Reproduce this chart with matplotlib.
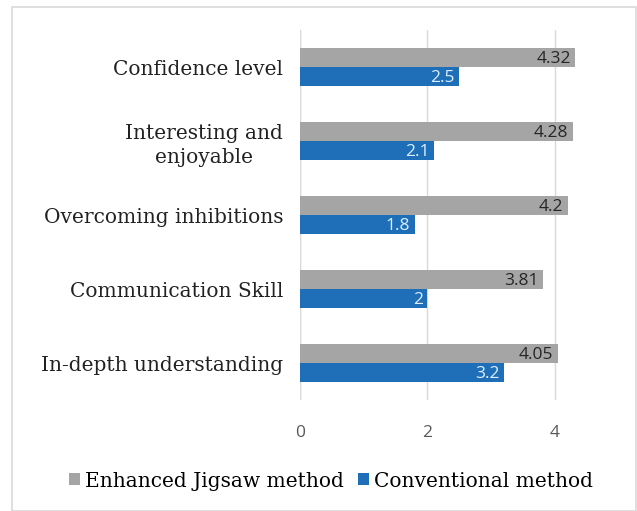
import matplotlib.pyplot as plt
from matplotlib.patches import Rectangle
import numpy as np

categories = ["Confidence level", "Interesting and\nenjoyable", "Overcoming inhibitions",
              "Communication Skill", "In-depth understanding"]
jigsaw = [4.32, 4.28, 4.2, 3.81, 4.05]
conventional = [2.5, 2.1, 1.8, 2, 3.2]
jigsaw_labels = ["4.32", "4.28", "4.2", "3.81", "4.05"]
conv_labels = ["2.5", "2.1", "1.8", "2", "3.2"]

gray = '#a5a5a5'
blue = '#1f6fb8'

fig = plt.figure(figsize=(6.37, 5.11), dpi=100)
fig.patches.append(Rectangle((12/637, 0), 624/637, 1 - 7/511, transform=fig.transFigure,
                             fill=False, edgecolor='#d9d9d9', lw=1.2))
ax = fig.add_axes([300/637, 1 - 400/511, 293/637, 370/511])

y = np.arange(len(categories))
h = 0.262
ax.barh(y - h/2, jigsaw, height=h, color=gray, label="Enhanced Jigsaw method", zorder=2)
ax.barh(y + h/2, conventional, height=h, color=blue, label="Conventional method", zorder=2)

for i in range(len(categories)):
    ax.text(jigsaw[i] - 0.07, y[i] - h/2 + 0.02, jigsaw_labels[i], ha='right', va='center',
            fontsize=12.5, color='#262626', family='Open Sans', zorder=3)
    ax.text(conventional[i] - 0.07, y[i] + h/2 + 0.02, conv_labels[i], ha='right', va='center',
            fontsize=12.5, color='#dcefff', family='Open Sans', zorder=3)

ax.set_ylim(len(categories) - 0.5, -0.5)
ax.set_xlim(0, 4.6)
ax.set_xticks([0, 2, 4])
ax.set_xticklabels(['0', '2', '4'], family='Open Sans', fontsize=12.5, color='#595959')
ax.set_yticks(y)
ax.set_yticklabels(categories, family='DejaVu Serif', fontsize=14.5, color='#222222',
                   linespacing=1.3)
for lab in ax.get_yticklabels():
    lab.set_multialignment('center')
ax.tick_params(length=0, pad=12, axis='y')
ax.tick_params(length=0, pad=18, axis='x')
ax.grid(axis='x', color='#d9d9d9', lw=1, zorder=0)
for s in ax.spines.values():
    s.set_visible(False)
ax.axvline(0, color='#d9d9d9', lw=1, zorder=1)

fig.legend(loc='center', bbox_to_anchor=(0.52, 1 - 481/511), ncol=2, frameon=False,
           prop={'family': 'DejaVu Serif', 'size': 14.5}, handlelength=0.55, handleheight=0.55,
           handletextpad=0.25, columnspacing=0.7)

plt.savefig('out.png')
